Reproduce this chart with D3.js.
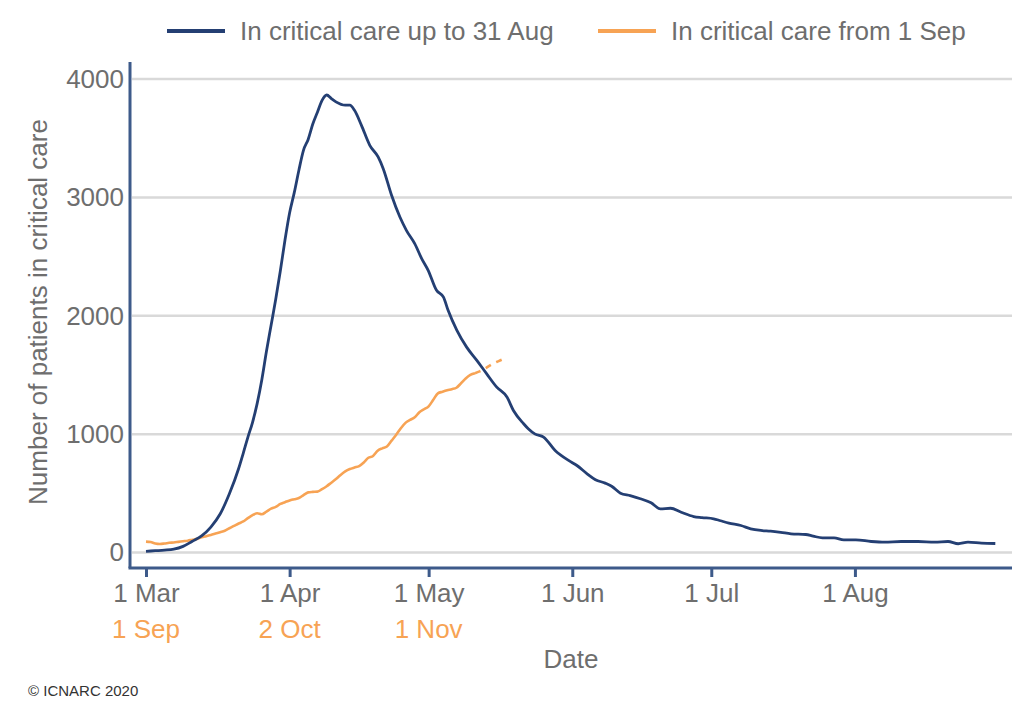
<!DOCTYPE html>
<html>
<head>
<meta charset="utf-8">
<script src="https://cdn.jsdelivr.net/npm/d3@7"></script>
<style>
  body { margin: 0; background: #fff; }
  svg { display: block; font-family: "Liberation Sans", Arial, sans-serif; }
</style>
</head>
<body>
<svg id="chart" width="1036" height="702"></svg>
<script>
// Day index: 0 = 1 Mar (blue) / 1 Sep (orange)
const blueDay = [0,2,4,6,8,10,12,14,16,18,20,21,22,23,24,25,26,27,28,29,30,31,32,33,34,35,36,37,38,39,40,41,43,44,45,46.5,48.3,50.1,51.2,53,54.8,56.2,58,59.5,60.9,62.7,64.2,65.2,67.1,69.2,71.4,73.5,75.7,77.9,79.3,81.5,82.5,84,85.8,88.3,91.2,93,95.2,97,99.1,100.5,102.4,104.5,106.7,109,111,113.2,115.5,118.2,120,122.5,124,125.8,128.4,130.5,132.7,134.8,137,139.2,142.4,144,146,148.5,150.6,153.2,156.5,159.4,163,166.6,170.2,173.1,175.3,177.4,180.3,183.3];
const blueValue = [10,15,20,28,52,95,140,215,325,496,710,840,975,1100,1260,1460,1700,1920,2140,2380,2640,2870,3040,3230,3400,3490,3620,3720,3820,3865,3835,3807,3779,3779,3736,3609,3440,3342,3243,3018,2834,2722,2609,2483,2384,2215,2158,2046,1877,1735,1623,1511,1397,1313,1200,1088,1046,1000,975,862,778,735,665,615,586,560,501,480,454,420,369,374,340,304,295,285,268,248,228,200,186,180,170,158,152,138,124,124,107,107,93,87,93,93,87,93,74,87,79,76];

const orangeDay = [0,1,2,3,4,5,6,7,8,9,10,11,12,13,14,15,16,17,18,19,20,21,22,23,24,25,26,27,28,29,30,31,32,33,34,35,36,37,38,39,40,41,42,43,44,45,46,47,48,49,50,51,52,53,54,55,56,57,58,59,60,61,62,63,64,65,66,67,68,69,70,71];
const orangeValue = [92,88,76,72,76,82,85,90,95,100,108,115,128,138,148,160,172,184,205,225,245,262,290,315,331,323,345,370,385,410,425,440,450,460,485,508,512,514,535,560,590,620,655,685,705,718,730,760,800,815,860,880,895,945,995,1050,1095,1120,1142,1185,1210,1235,1290,1345,1358,1370,1380,1392,1430,1470,1500,1514];
const orangeProvDay = [71,72,73,74,75,76,77];
const orangeProvValue = [1514,1530,1550,1575,1598,1615,1632];

const yTicks = [0,1000,2000,3000,4000];
const xTickDays = [0,31,61,92,122,153];
const xTickLabels = ["1 Mar","1 Apr","1 May","1 Jun","1 Jul","1 Aug"];
const xTickLabels2 = ["1 Sep","2 Oct","1 Nov"];
const seriesNames = ["In critical care up to 31 Aug","In critical care from 1 Sep"];

const BLUE = "#243f73", ORANGE = "#f7a354", AXIS = "#3d5a8a", GRID = "#d9d9d9", TEXT = "#6e6e6e";
const FS = 26;

const svg = d3.select("#chart");
const x = d3.scaleLinear().domain([-3.45, 186.9]).range([130, 1012]);
const y = d3.scaleLinear().domain([-131, 4144]).range([568, 62]);

// gridlines
svg.append("g").selectAll("line").data(yTicks).join("line")
  .attr("x1", 132).attr("x2", 1012)
  .attr("y1", d => y(d)).attr("y2", d => y(d))
  .attr("stroke", GRID).attr("stroke-width", 2.5);

// y axis
const yAxis = svg.append("g").attr("transform", "translate(130,0)")
  .call(d3.axisLeft(y).tickValues(yTicks).tickSize(0).tickPadding(6).tickFormat(d3.format("d")));
yAxis.select(".domain").attr("stroke", AXIS).attr("stroke-width", 3).attr("d", `M0,${62}V${568}`);
yAxis.selectAll("text").attr("fill", TEXT).attr("font-size", FS).attr("font-family", "Liberation Sans, Arial, sans-serif");

// x axis
const xAxis = svg.append("g").attr("transform", "translate(0,568)")
  .call(d3.axisBottom(x).tickValues(xTickDays).tickSize(9).tickPadding(7).tickFormat((d,i) => xTickLabels[i]));
xAxis.select(".domain").attr("stroke", AXIS).attr("stroke-width", 3).attr("d", `M128.5,0H1012`);
xAxis.selectAll(".tick line").attr("stroke", AXIS).attr("stroke-width", 3);
xAxis.selectAll("text").attr("fill", TEXT).attr("font-size", FS).attr("font-family", "Liberation Sans, Arial, sans-serif");

// second row of labels (orange)
svg.append("g").selectAll("text").data(xTickLabels2).join("text")
  .attr("x", (d,i) => x(xTickDays[i])).attr("y", 638)
  .attr("text-anchor", "middle").attr("fill", ORANGE).attr("font-size", FS)
  .text(d => d);

// axis titles
svg.append("text").attr("x", 571).attr("y", 668).attr("text-anchor", "middle")
  .attr("fill", TEXT).attr("font-size", FS).text("Date");
svg.append("text").attr("transform", "translate(47,312) rotate(-90)").attr("text-anchor", "middle")
  .attr("fill", TEXT).attr("font-size", FS).text("Number of patients in critical care");

// lines
const line = d3.line().x(d => x(d[0])).y(d => y(d[1])).curve(d3.curveMonotoneX);
const blue = blueDay.map((d,i) => [d, blueValue[i]]);
const orange = orangeDay.map((d,i) => [d, orangeValue[i]]);
const orangeProv = orangeProvDay.map((d,i) => [d, orangeProvValue[i]]);

svg.append("path").datum(orange).attr("d", line).attr("fill", "none")
  .attr("stroke", ORANGE).attr("stroke-width", 2.6).attr("stroke-linejoin", "round");
svg.append("path").datum(orangeProv).attr("d", line).attr("fill", "none")
  .attr("stroke", ORANGE).attr("stroke-width", 2.6).attr("stroke-dasharray", "6,6");
svg.append("path").datum(blue).attr("d", line).attr("fill", "none")
  .attr("stroke", BLUE).attr("stroke-width", 2.8).attr("stroke-linejoin", "round");

// legend
const legendItems = [{x: 167, color: BLUE, name: seriesNames[0]}, {x: 598, color: ORANGE, name: seriesNames[1]}];
const lg = svg.append("g").selectAll("g").data(legendItems).join("g");
lg.append("line").attr("x1", d => d.x).attr("x2", d => d.x + 58).attr("y1", 31).attr("y2", 31)
  .attr("stroke", d => d.color).attr("stroke-width", 4);
lg.append("text").attr("x", d => d.x + 73).attr("y", 39.5).attr("fill", TEXT).attr("font-size", FS)
  .text(d => d.name);

// credit
svg.append("text").attr("x", 28).attr("y", 696).attr("fill", "#333").attr("font-size", 15).text("© ICNARC 2020");
</script>
</body>
</html>
